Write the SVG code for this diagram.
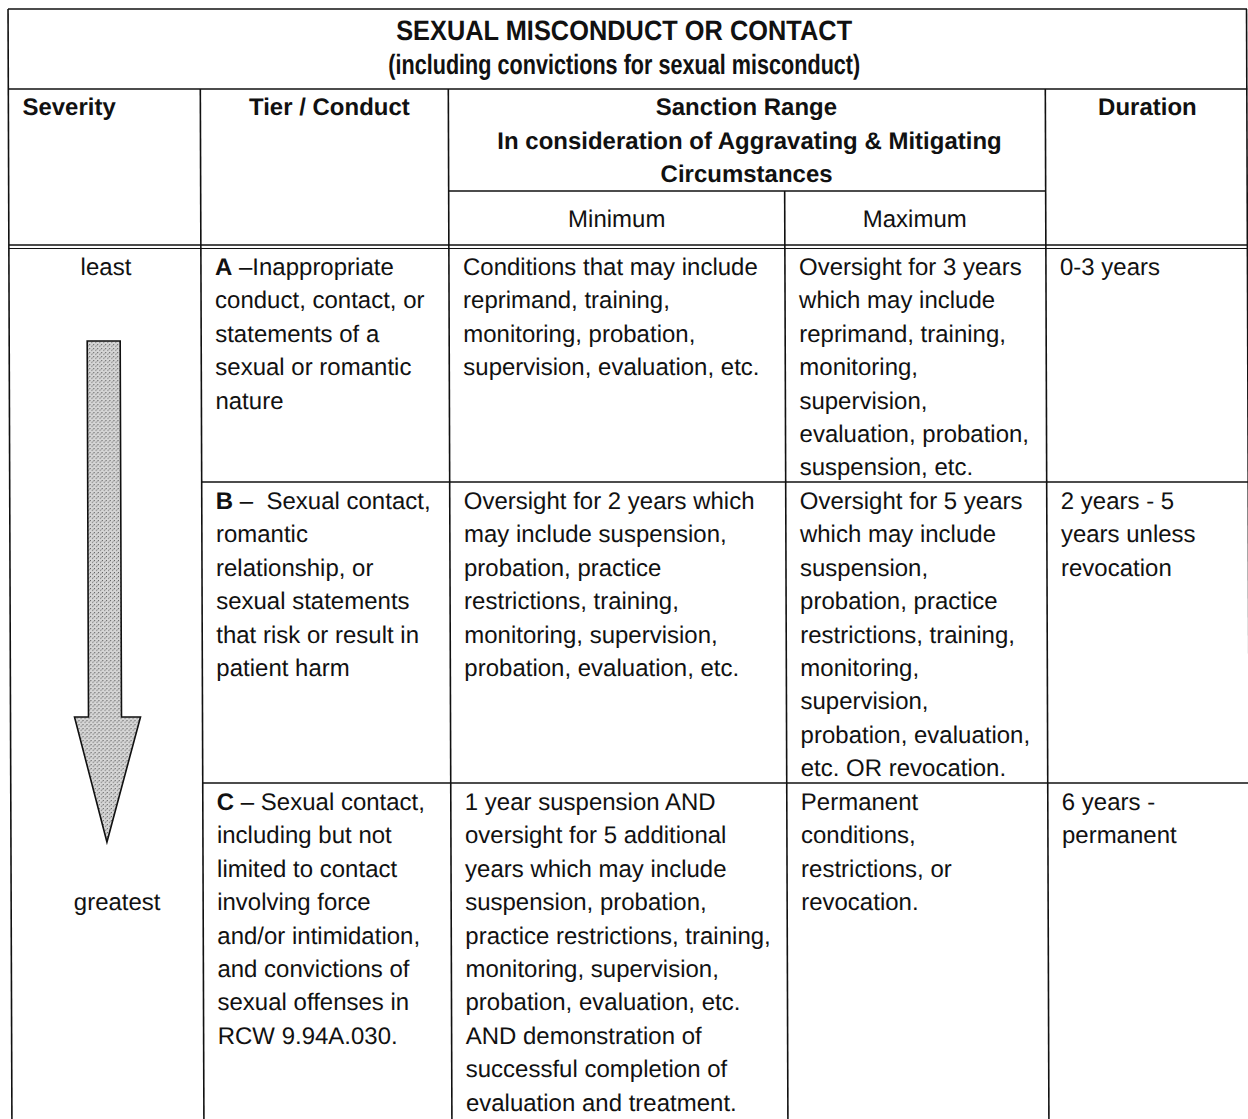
<svg xmlns="http://www.w3.org/2000/svg" width="1248" height="1119" viewBox="0 0 1248 1119">
<style>
.t{font-family:"Liberation Sans",Arial,sans-serif;font-size:24px;fill:#111;white-space:pre}
.b{font-weight:bold}
.c{text-anchor:middle}
.ti{font-family:"Liberation Sans",Arial,sans-serif;font-size:28px;font-weight:bold;fill:#111;text-anchor:middle}
.ln{stroke:#111;stroke-width:1.6;fill:none}
</style>
<defs>
<pattern id="stip" width="4" height="4" patternUnits="userSpaceOnUse">
<rect width="4" height="4" fill="#d6d6d6"/>
<rect x="0" y="0" width="1" height="1" fill="#555"/>
<rect x="2" y="2" width="1" height="1" fill="#666"/>
<rect x="3" y="1" width="1" height="1" fill="#999"/>
</pattern>
</defs>
<rect width="1248" height="1119" fill="#fff"/>
<g transform="skewX(0.2)">
<g id="grid" class="ln">
<line x1="8" y1="9" x2="1247" y2="9"/>
<line x1="8" y1="89" x2="1247" y2="89"/>
<line x1="448" y1="191" x2="1045" y2="191"/>
<line x1="8" y1="245" x2="1247" y2="245"/>
<line x1="8" y1="248.5" x2="1247" y2="248.5" stroke-width="1"/>
<line x1="200" y1="482" x2="1247" y2="482"/>
<line x1="200" y1="783" x2="1247" y2="783"/>
<line x1="8" y1="9" x2="8" y2="1119"/>
<line x1="1246.5" y1="9" x2="1246.5" y2="1119"/>
<line x1="200" y1="89" x2="200" y2="1119"/>
<line x1="448" y1="89" x2="448" y2="1119"/>
<line x1="784" y1="191" x2="784" y2="1119"/>
<line x1="1045" y1="89" x2="1045" y2="1119"/>
</g>
<g id="title">
<text class="ti" x="624" y="40" textLength="456" lengthAdjust="spacingAndGlyphs">SEXUAL MISCONDUCT OR CONTACT</text>
<text class="ti" x="624" y="74" textLength="472" lengthAdjust="spacingAndGlyphs">(including convictions for sexual misconduct)</text>
</g>
<g id="header">
<text class="t b" x="22" y="115">Severity</text>
<text class="t b c" x="329" y="115">Tier / Conduct</text>
<text class="t b c" x="746" y="115">Sanction Range</text>
<text class="t b c" x="749" y="149">In consideration of Aggravating &amp; Mitigating</text>
<text class="t b c" x="746" y="182">Circumstances</text>
<text class="t b c" x="1147" y="115">Duration</text>
<text class="t c" x="616" y="227">Minimum</text>
<text class="t c" x="914" y="227">Maximum</text>
</g>
<g id="severity">
<text class="t c" x="105" y="275">least</text>
<text class="t c" x="114" y="910">greatest</text>
<polygon points="86,341 119,341 119,717 138,717 104,842 72,717 86,717" fill="url(#stip)" stroke="#111" stroke-width="1.6"/>
</g>
<g id="rowA">
<text class="t" x="214" y="275"><tspan class="b">A</tspan> –Inappropriate</text>
<text class="t" x="214" y="308">conduct, contact, or</text>
<text class="t" x="214" y="342">statements of a</text>
<text class="t" x="214" y="375">sexual or romantic</text>
<text class="t" x="214" y="409">nature</text>
<text class="t" x="462" y="275">Conditions that may include</text>
<text class="t" x="462" y="308">reprimand, training,</text>
<text class="t" x="462" y="342">monitoring, probation,</text>
<text class="t" x="462" y="375">supervision, evaluation, etc.</text>
<text class="t" x="798" y="275">Oversight for 3 years</text>
<text class="t" x="798" y="308">which may include</text>
<text class="t" x="798" y="342">reprimand, training,</text>
<text class="t" x="798" y="375">monitoring,</text>
<text class="t" x="798" y="409">supervision,</text>
<text class="t" x="798" y="442">evaluation, probation,</text>
<text class="t" x="798" y="475">suspension, etc.</text>
<text class="t" x="1059" y="275">0-3 years</text>
</g>
<g id="rowB">
<text class="t" x="214" y="509"><tspan class="b">B</tspan> –  Sexual contact,</text>
<text class="t" x="214" y="542">romantic</text>
<text class="t" x="214" y="576">relationship, or</text>
<text class="t" x="214" y="609">sexual statements</text>
<text class="t" x="214" y="643">that risk or result in</text>
<text class="t" x="214" y="676">patient harm</text>
<text class="t" x="462" y="509">Oversight for 2 years which</text>
<text class="t" x="462" y="542">may include suspension,</text>
<text class="t" x="462" y="576">probation, practice</text>
<text class="t" x="462" y="609">restrictions, training,</text>
<text class="t" x="462" y="643">monitoring, supervision,</text>
<text class="t" x="462" y="676">probation, evaluation, etc.</text>
<text class="t" x="798" y="509">Oversight for 5 years</text>
<text class="t" x="798" y="542">which may include</text>
<text class="t" x="798" y="576">suspension,</text>
<text class="t" x="798" y="609">probation, practice</text>
<text class="t" x="798" y="643">restrictions, training,</text>
<text class="t" x="798" y="676">monitoring,</text>
<text class="t" x="798" y="709">supervision,</text>
<text class="t" x="798" y="743">probation, evaluation,</text>
<text class="t" x="798" y="776">etc. OR revocation.</text>
<text class="t" x="1059" y="509">2 years - 5</text>
<text class="t" x="1059" y="542">years unless</text>
<text class="t" x="1059" y="576">revocation</text>
</g>
<g id="rowC">
<text class="t" x="214" y="810"><tspan class="b">C</tspan> – Sexual contact,</text>
<text class="t" x="214" y="843">including but not</text>
<text class="t" x="214" y="877">limited to contact</text>
<text class="t" x="214" y="910">involving force</text>
<text class="t" x="214" y="944">and/or intimidation,</text>
<text class="t" x="214" y="977">and convictions of</text>
<text class="t" x="214" y="1010">sexual offenses in</text>
<text class="t" x="214" y="1044">RCW 9.94A.030.</text>
<text class="t" x="462" y="810">1 year suspension AND</text>
<text class="t" x="462" y="843">oversight for 5 additional</text>
<text class="t" x="462" y="877">years which may include</text>
<text class="t" x="462" y="910">suspension, probation,</text>
<text class="t" x="462" y="944">practice restrictions, training,</text>
<text class="t" x="462" y="977">monitoring, supervision,</text>
<text class="t" x="462" y="1010">probation, evaluation, etc.</text>
<text class="t" x="462" y="1044">AND demonstration of</text>
<text class="t" x="462" y="1077">successful completion of</text>
<text class="t" x="462" y="1111">evaluation and treatment.</text>
<text class="t" x="798" y="810">Permanent</text>
<text class="t" x="798" y="843">conditions,</text>
<text class="t" x="798" y="877">restrictions, or</text>
<text class="t" x="798" y="910">revocation.</text>
<text class="t" x="1059" y="810">6 years -</text>
<text class="t" x="1059" y="843">permanent</text>
</g>
</g>
</svg>
